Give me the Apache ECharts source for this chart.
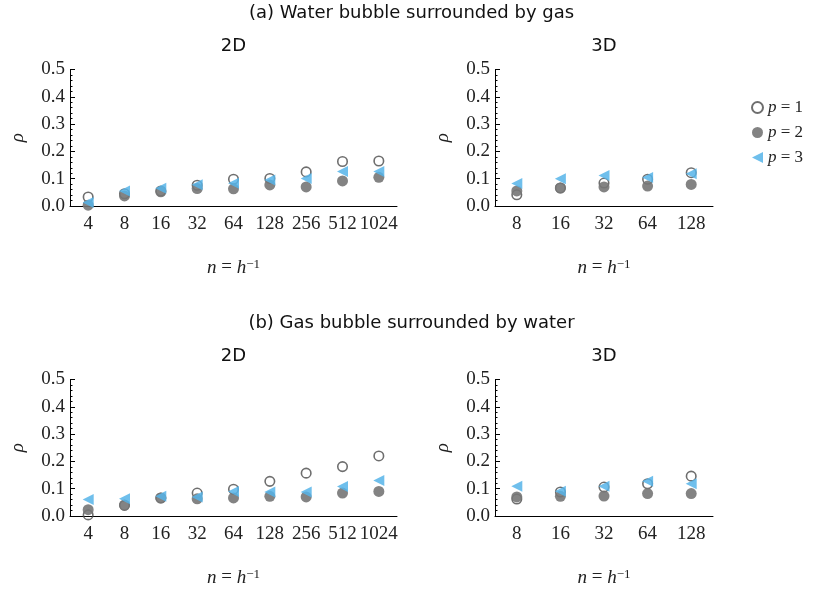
<!DOCTYPE html>
<html>
<head>
<meta charset="utf-8">
<script src="https://cdn.jsdelivr.net/npm/echarts@6/dist/echarts.min.js"></script>
<style>
  html, body { margin: 0; padding: 0; background: #fff; }
  #chart { width: 823px; height: 592px; }
</style>
</head>
<body>
<div id="chart"></div>
<script>
// Mesh sizes n = 1/h
const cats2D = ['4', '8', '16', '32', '64', '128', '256', '512', '1024'];
const cats3D = ['8', '16', '32', '64', '128'];

// (a) Water bubble surrounded by gas
const a2D_p1 = [0.033, 0.045, 0.055, 0.076, 0.098, 0.101, 0.125, 0.163, 0.165];
const a2D_p2 = [0.003, 0.037, 0.052, 0.064, 0.063, 0.077, 0.070, 0.092, 0.105];
const a2D_p3 = [0.013, 0.055, 0.065, 0.078, 0.083, 0.095, 0.101, 0.126, 0.126];
const a3D_p1 = [0.041, 0.066, 0.084, 0.098, 0.122];
const a3D_p2 = [0.055, 0.066, 0.070, 0.073, 0.079];
const a3D_p3 = [0.082, 0.100, 0.112, 0.104, 0.118];

// (b) Gas bubble surrounded by water
const b2D_p1 = [0.004, 0.039, 0.066, 0.084, 0.098, 0.127, 0.157, 0.181, 0.220];
const b2D_p2 = [0.023, 0.040, 0.066, 0.063, 0.066, 0.072, 0.070, 0.084, 0.090];
const b2D_p3 = [0.060, 0.063, 0.072, 0.070, 0.090, 0.088, 0.088, 0.108, 0.130];
const b3D_p1 = [0.062, 0.088, 0.106, 0.118, 0.146];
const b3D_p2 = [0.070, 0.072, 0.073, 0.082, 0.082];
const b3D_p3 = [0.109, 0.091, 0.109, 0.127, 0.118];

const SERIF = 'Liberation Serif, DejaVu Serif, serif';
const SANS = 'DejaVu Sans, sans-serif';
const LEFT_TRI = 'path://M0,5L10,0L10,10Z';

const panels = [
  { left: 70,  top: 69.5,  width: 327, cats: cats2D, data: [a2D_p1, a2D_p2, a2D_p3] },
  { left: 495, top: 69.5,  width: 218, cats: cats3D, data: [a3D_p1, a3D_p2, a3D_p3] },
  { left: 70,  top: 379.5, width: 327, cats: cats2D, data: [b2D_p1, b2D_p2, b2D_p3] },
  { left: 495, top: 379.5, width: 218, cats: cats3D, data: [b3D_p1, b3D_p2, b3D_p3] }
];

const seriesStyle = [
  { name: 'p1', symbol: 'circle', symbolSize: 9.5,
    itemStyle: { color: 'rgba(0,0,0,0)', borderColor: '#4a4a4a', borderWidth: 1.6 } },
  { name: 'p2', symbol: 'circle', symbolSize: 11,
    itemStyle: { color: '#767676', opacity: 0.9 } },
  { name: 'p3', symbol: LEFT_TRI, symbolSize: [11, 11],
    itemStyle: { color: '#56B4E9', opacity: 0.85 } }
];

const grids = [], xAxes = [], yAxes = [], series = [];
panels.forEach((p, i) => {
  grids.push({ left: p.left, top: p.top, width: p.width, height: 136.5 });
  xAxes.push({
    type: 'category', gridIndex: i, data: p.cats, boundaryGap: true,
    axisLine: { lineStyle: { color: '#000', width: 1 } },
    axisTick: { inside: true, length: 4, alignWithLabel: true, lineStyle: { color: '#000' } },
    axisLabel: { interval: 0, color: '#222', fontFamily: SERIF, fontSize: 19, margin: 9 },
    splitLine: { show: false },
    name: '{i|n} = {i|h}{s|−1}', nameLocation: 'middle', nameGap: 52,
    nameTextStyle: {
      color: '#222', fontFamily: SERIF, fontSize: 19,
      rich: {
        i: { fontFamily: SERIF, fontStyle: 'italic', fontSize: 19, color: '#222' },
        s: { fontFamily: SERIF, fontSize: 13, color: '#222', verticalAlign: 'top' }
      }
    }
  });
  yAxes.push({
    type: 'value', gridIndex: i, min: 0, max: 0.5, interval: 0.1,
    axisLine: { show: true, lineStyle: { color: '#000', width: 1 } },
    axisTick: { show: true, inside: true, length: 5, lineStyle: { color: '#000' } },
    minorTick: { show: true, splitNumber: 5, length: 2.5, lineStyle: { color: '#000' } },
    axisLabel: { color: '#222', fontFamily: SERIF, fontSize: 19, margin: 5,
      formatter: v => v.toFixed(1) },
    splitLine: { show: false },
    name: 'ρ', nameLocation: 'middle', nameGap: 43, nameRotate: 90,
    nameTextStyle: { color: '#222', fontFamily: SERIF, fontStyle: 'italic', fontSize: 19 }
  });
  p.data.forEach((vals, k) => {
    const s = seriesStyle[k];
    series.push({
      type: 'scatter', name: s.name, xAxisIndex: i, yAxisIndex: i,
      symbol: s.symbol, symbolSize: s.symbolSize, itemStyle: s.itemStyle,
      data: vals, z: 2 + k, emphasis: { disabled: true }
    });
  });
});

const titleText = (txt, x, y) => ({
  type: 'text', x: x, y: y,
  style: { text: txt, fill: '#111', font: '18px ' + SANS, align: 'center', verticalAlign: 'middle' }
});

const chart = echarts.init(document.getElementById('chart'), null, { renderer: 'canvas' });
chart.setOption({
  animation: false,
  backgroundColor: '#fff',
  grid: grids,
  xAxis: xAxes,
  yAxis: yAxes,
  series: series,
  legend: {
    data: ['p1', 'p2', 'p3'], orient: 'vertical', left: 746, top: 94,
    itemWidth: 11, itemHeight: 11, itemGap: 8, selectedMode: false,
    formatter: name => '{i|p} = ' + name.slice(1),
    textStyle: {
      color: '#222', fontFamily: SERIF, fontSize: 17, lineHeight: 16,
      rich: { i: { fontFamily: SERIF, fontStyle: 'italic', fontSize: 17, color: '#222' } }
    }
  },
  graphic: [
    titleText('(a) Water bubble surrounded by gas', 411.5, 13),
    titleText('2D', 233.5, 46),
    titleText('3D', 604, 46),
    titleText('(b) Gas bubble surrounded by water', 411.5, 323),
    titleText('2D', 233.5, 356),
    titleText('3D', 604, 356)
  ]
});
</script>
</body>
</html>
